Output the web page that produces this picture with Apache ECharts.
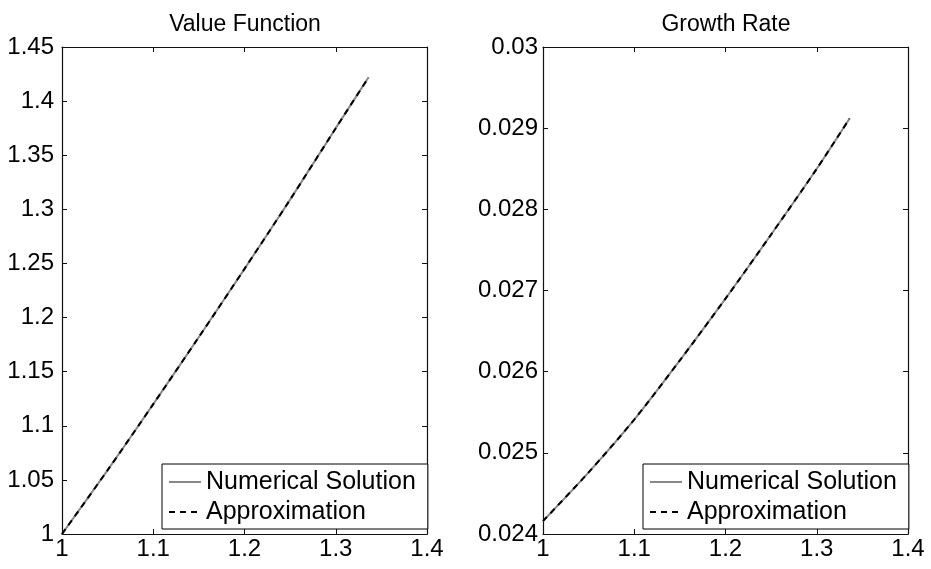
<!DOCTYPE html>
<html>
<head>
<meta charset="utf-8">
<script src="https://cdn.jsdelivr.net/npm/echarts@6/dist/echarts.min.js"></script>
<style>
html,body{margin:0;padding:0;background:#fff;}
#chart{width:931px;height:569px;}
</style>
</head>
<body>
<div id="chart"></div>
<script>
// Data
var capital = [1.0, 1.05, 1.1, 1.15, 1.2, 1.25, 1.3, 1.336];
var valueNumerical = [1.0, 1.059, 1.120, 1.182, 1.245, 1.309, 1.375, 1.422];
var valueApprox    = [1.0, 1.059, 1.120, 1.182, 1.245, 1.309, 1.375, 1.422];
var growthNumerical = [0.02416, 0.02476, 0.02541, 0.02614, 0.02690, 0.02769, 0.02850, 0.02912];
var growthApprox    = [0.02416, 0.02476, 0.02541, 0.02614, 0.02690, 0.02769, 0.02850, 0.02912];
var panelTitles = ['Value Function', 'Growth Rate'];
var seriesNames = ['Numerical Solution', 'Approximation'];

function pairs(xs, ys){ return xs.map(function(x,i){ return [x, ys[i]]; }); }
function fmt(v){ return String(+v.toFixed(4)); }

var FONT = '"Liberation Sans", Arial, Helvetica, sans-serif';
var AXC = '#111';
var grids = [
  {left: 62, top: 47, width: 365, height: 487},
  {left: 543, top: 47, width: 365, height: 487}
];
var yRanges = [{min: 1, max: 1.45, interval: 0.05}, {min: 0.024, max: 0.03, interval: 0.001}];
var yMargins = [8, 5];

var xAxes = [], yAxes = [];
[0,1].forEach(function(g){
  ['bottom','top'].forEach(function(pos){
    xAxes.push({
      type: 'value', gridIndex: g, position: pos, min: 1, max: 1.4, interval: 0.1,
      axisLine: {show: true, onZero: false, lineStyle: {color: AXC, width: 1.2}},
      axisTick: {show: true, inside: true, length: 5, lineStyle: {color: AXC}},
      axisLabel: {show: pos === 'bottom', color: '#000', fontSize: 24, fontFamily: FONT, margin: 3, formatter: fmt},
      splitLine: {show: false}
    });
  });
  ['left','right'].forEach(function(pos){
    yAxes.push({
      type: 'value', gridIndex: g, position: pos,
      min: yRanges[g].min, max: yRanges[g].max, interval: yRanges[g].interval,
      axisLine: {show: true, onZero: false, lineStyle: {color: AXC, width: 1.2}},
      axisTick: {show: true, inside: true, length: 5, lineStyle: {color: AXC}},
      axisLabel: {show: pos === 'left', color: '#000', fontSize: 24, fontFamily: FONT, margin: yMargins[g], formatter: fmt},
      splitLine: {show: false}
    });
  });
});

function mkSeries(name, g, data, isApprox){
  return {
    name: name, type: 'line', xAxisIndex: g*2, yAxisIndex: g*2,
    data: data, showSymbol: false, symbol: 'none', smooth: 0.3,
    lineStyle: isApprox ? {color: '#000', width: 2, type: [6,5]} : {color: '#888', width: 2, type: 'solid'},
    itemStyle: {color: isApprox ? '#000' : '#888'},
    z: isApprox ? 3 : 2, animation: false
  };
}

var legendBase = {
  orient: 'vertical', top: 464, itemWidth: 32, itemHeight: 14, itemGap: 4,
  padding: [5, 12, 4, 6], borderColor: '#000', borderWidth: 1, backgroundColor: '#fff',
  itemStyle: {opacity: 0},
  textStyle: {fontSize: 25, fontFamily: FONT, color: '#000', lineHeight: 26},
  data: seriesNames.slice(), selectedMode: false
};

var titleStyle = {fontSize: 23, fontWeight: 'normal', fontFamily: FONT, color: '#000'};
var option = {
  backgroundColor: '#fff',
  animation: false,
  title: [
    {text: panelTitles[0], left: 240, top: 8, textAlign: 'center', textStyle: titleStyle},
    {text: panelTitles[1], left: 721, top: 8, textAlign: 'center', textStyle: titleStyle}
  ],
  grid: grids,
  xAxis: xAxes,
  yAxis: yAxes,
  legend: [
    Object.assign({}, legendBase, {left: 162}),
    Object.assign({}, legendBase, {left: 643})
  ],
  series: [
    mkSeries(seriesNames[0], 0, pairs(capital, valueNumerical), false),
    mkSeries(seriesNames[1], 0, pairs(capital, valueApprox), true),
    mkSeries(seriesNames[0], 1, pairs(capital, growthNumerical), false),
    mkSeries(seriesNames[1], 1, pairs(capital, growthApprox), true)
  ]
};
var chart = echarts.init(document.getElementById('chart'), null, {renderer: 'canvas'});
chart.setOption(option);
</script>
</body>
</html>
